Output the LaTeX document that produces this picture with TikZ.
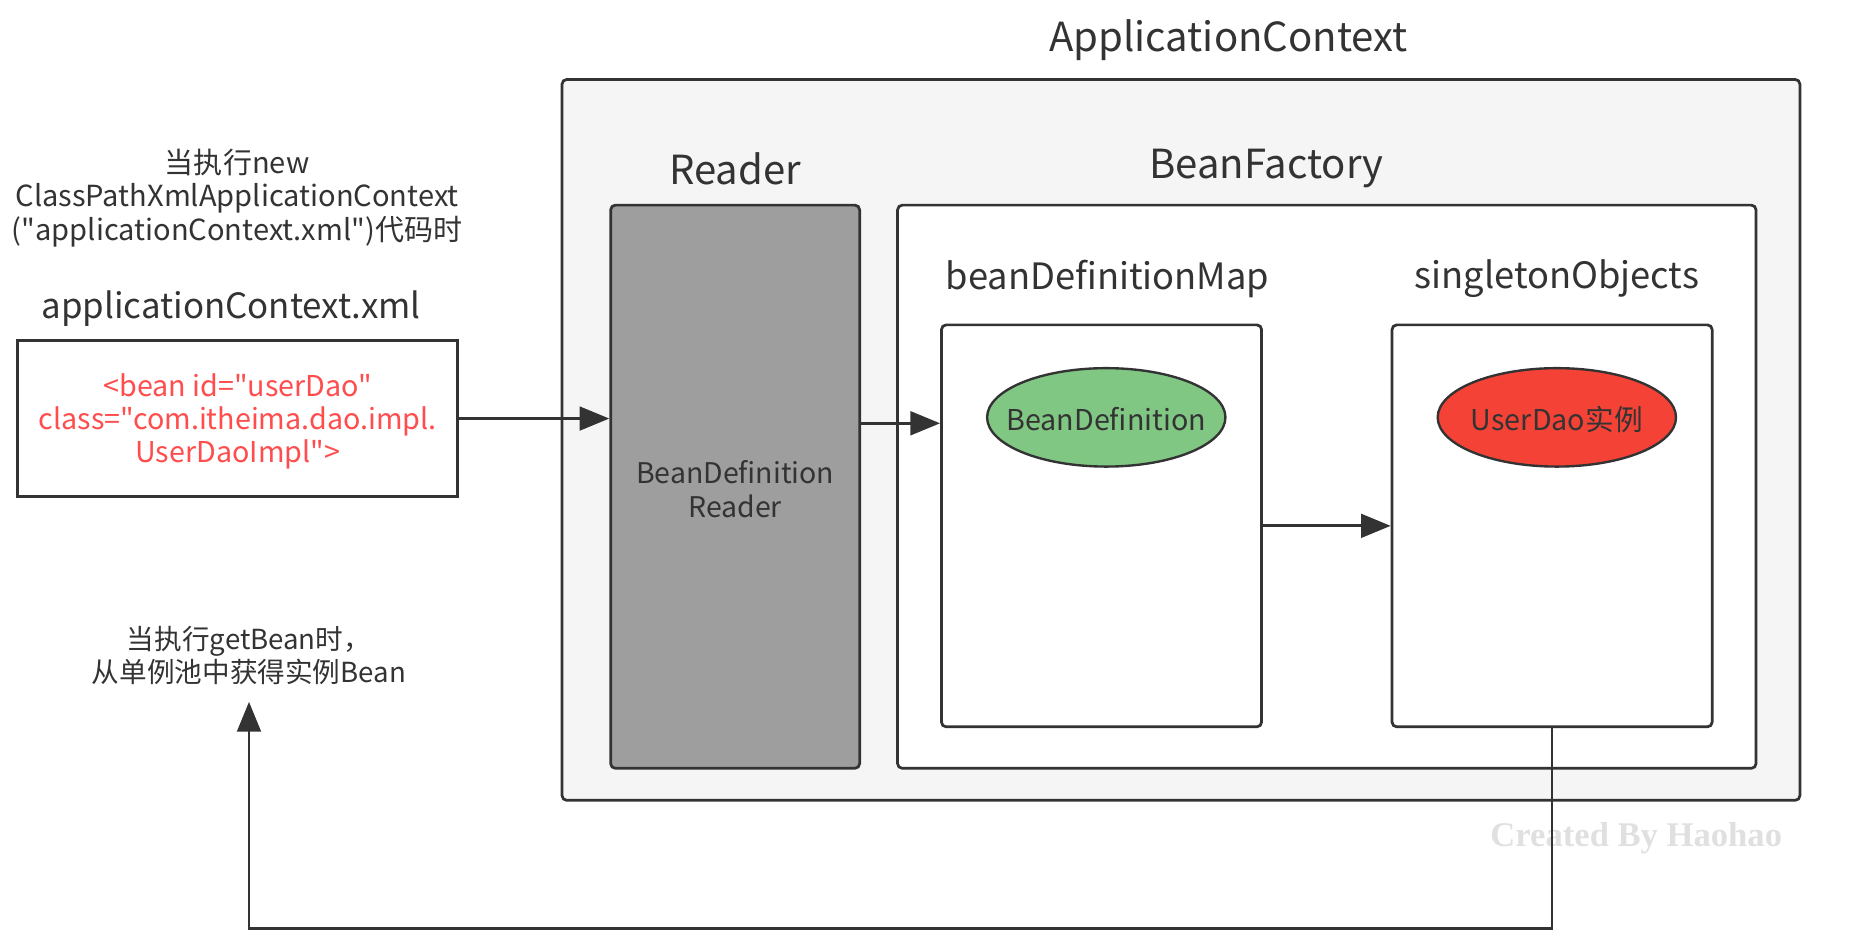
\documentclass[tikz,border=0pt]{standalone}
\usepackage{fontspec}
\setmainfont{Noto Sans CJK SC}[Ligatures=TeXOff]
\newfontfamily\wmfont{Liberation Serif}
\usetikzlibrary{arrows.meta,shapes.geometric,calc}
\definecolor{ink}{HTML}{333333}
\definecolor{outerfill}{HTML}{F5F5F5}
\definecolor{readerfill}{HTML}{9E9E9E}
\definecolor{greenfill}{HTML}{81C784}
\definecolor{redfill}{HTML}{F44336}
\definecolor{redtext}{HTML}{FF4D4D}
\definecolor{wmgray}{HTML}{E0E0E0}
\begin{document}
\begin{tikzpicture}[x=1pt,y=-1pt,
  box/.style={draw=ink, line width=2.3pt, rounded corners=4pt, inner sep=0pt, anchor=center},
  biglbl/.style={text=ink, font=\fontsize{33.8}{40}\selectfont, inner sep=0pt},
  midlbl/.style={text=ink, font=\fontsize{30.6}{36}\selectfont, inner sep=0pt},
  small/.style={text=ink, font=\fontsize{24}{28}\selectfont, align=center, inner sep=0pt},
  oval/.style={ellipse, draw=ink, line width=2pt, minimum width=201pt, minimum height=83pt, inner sep=0pt},
  ovaltext/.style={text=ink, font=\fontsize{24.2}{28}\selectfont, inner sep=0pt},
  arr/.style={draw=ink, line width=2.3pt, -{Triangle[length=25pt,width=20pt]}}
]
\useasboundingbox (0,0) rectangle (1567,802);

% boxes
\node[box, fill=outerfill, minimum width=1044pt, minimum height=608pt] (app) at (996,371) {};
\node[box, fill=readerfill, minimum width=210pt, minimum height=475pt] (reader) at (620,410.5) {};
\node[small] (readert) at (620,412.5) {BeanDefinition\\Reader};
\node[box, fill=white, minimum width=724pt, minimum height=475pt] (bf) at (1119,410.5) {};
\node[box, fill=white, minimum width=270pt, minimum height=339pt] (bdm) at (929,443.5) {};
\node[box, fill=white, minimum width=270pt, minimum height=339pt] (so) at (1309,443.5) {};
\node[draw=ink, line width=2.3pt, fill=white, minimum width=371pt, minimum height=132pt, inner sep=0pt] (xml) at (200.5,353) {};
\node[text=redtext, font=\fontsize{24.2}{28}\selectfont, align=center, inner sep=0pt] (xmlt) at (200.5,355.5)
  {<bean id="userDao"\\class="com.itheima.dao.impl.\\UserDaoImpl">};

% ellipses
\node[oval, fill=greenfill] (bd) at (933,352) {};
\node[ovaltext] (bdt) at ([yshift=-1.5pt]bd.center) {BeanDefinition};
\node[oval, fill=redfill] (inst) at (1313,352) {};
\node[ovaltext] (instt) at ([yshift=-1.5pt]inst.center) {UserDao实例};

% labels
\node[biglbl] (tapp) at (1036,34) {ApplicationContext};
\node[biglbl] (treader) at (620,142.5) {Reader};
\node[biglbl] (tbf) at (1068,142.5) {BeanFactory};
\node[midlbl] (tbdm) at (934,235) {beanDefinitionMap};
\node[midlbl] (tso) at (1313,235) {singletonObjects};
\node[text=ink, font=\fontsize{29.4}{34}\selectfont, inner sep=0pt] (txml) at (195,260) {applicationContext.xml};
\node[small, font=\fontsize{24.5}{28}\selectfont] (note) at (200,167) {当执行new\\ClassPathXmlApplicationContext\\("applicationContext.xml")代码时};
\node[small, font=\fontsize{23.3}{28}\selectfont] (get) at (210,553) {当执行getBean时，\\从单例池中获得实例Bean};
\node[text=wmgray, font=\wmfont\bfseries\fontsize{29.2}{34}\selectfont, inner sep=0pt] (wm) at (1380,707) {Created By Haohao};

% connectors
\draw[arr] (xml.east) -- (xml.east -| reader.west);
\draw[arr] ([yshift=53.5pt]reader.east) -- ([yshift=53.5pt]reader.east -| bdm.west);
\draw[arr] (bdm.east) -- (so.west);
\draw[arr, line width=2pt] (so.south) -- ++(0,169) -| ([yshift=-14pt]get.south);
\end{tikzpicture}
\end{document}
